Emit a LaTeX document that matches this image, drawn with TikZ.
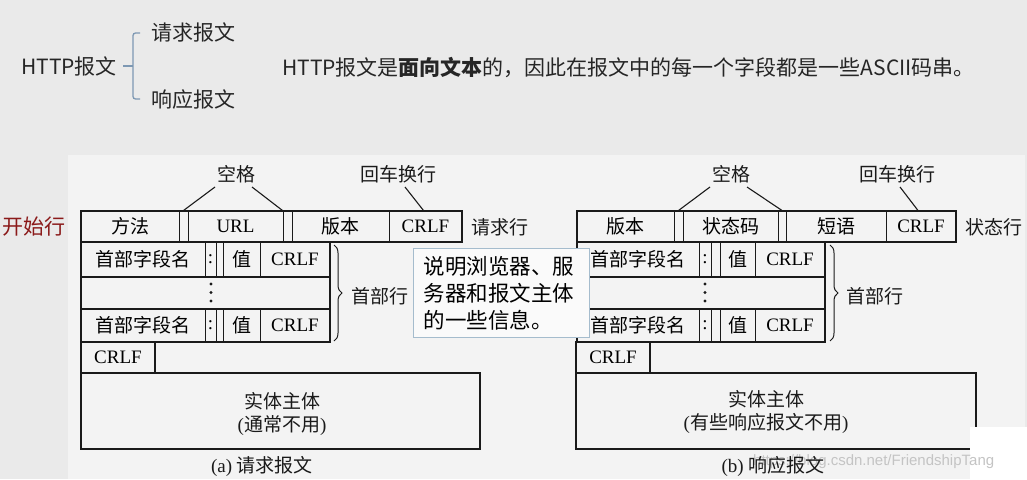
\documentclass[tikz,border=0pt]{standalone}
\usepackage{fontspec}
\setmainfont{Liberation Serif}
\newfontfamily\cjk{Noto Sans CJK SC}
\newfontfamily\wmfont{Liberation Sans}
\usetikzlibrary{decorations.pathreplacing}
\definecolor{bgtop}{HTML}{EAEAEA}
\definecolor{panel}{HTML}{F3F3F3}
\definecolor{ink}{HTML}{1A1A1A}
\definecolor{brk}{HTML}{7D98B3}
\definecolor{darkred}{HTML}{8B1A1A}
\definecolor{calloutline}{HTML}{A5BCCD}
\definecolor{wmgrey}{HTML}{C4C4C4}
\newcommand\dz{\fontsize{19}{23}\selectfont}
\newcommand\tz{\fontsize{21}{25}\selectfont}
\newcommand\mkcell[6]{\node[cell, minimum width={(#4-#2)*1pt}, minimum height={(#5-#3)*1pt}] (#1) at ({(#2+#4)/2},{(#3+#5)/2}) {#6};}
\begin{document}
\begin{tikzpicture}[x=1pt,y=-1pt,
  cell/.style={draw=ink, line width=1pt, inner sep=0pt, font=\dz},
  thickline/.style={draw=ink, line width=2pt},
  thinline/.style={draw=ink, line width=1.1pt},
  lbl/.style={font=\cjk\dz, inner sep=1pt, text=ink},
  toptext/.style={font=\cjk\tz, inner sep=0pt, text=black!85},
  bracebar/.style={draw=brk, line width=1.3pt},
  hdrbrace/.style={draw=ink, line width=1pt, decorate, decoration={brace, amplitude=8pt}},
  calloutbox/.style={draw=calloutline, fill=white!60!panel, line width=1pt, font=\cjk\fontsize{21.5}{27}\selectfont, align=left, text width=156pt, inner xsep=10pt, inner ysep=0pt, minimum height=89pt, anchor=north west}
]
\useasboundingbox (0,0) rectangle (1027,479);
\fill[bgtop] (0,0) rectangle (1027,479);
\fill[panel] (68,155) rectangle (1025,479);

% ---------- top part ----------
\node[toptext, anchor=west] (http) at (21,66) {HTTP报文};
\draw[bracebar] (123,66) -- (133,66);
\draw[bracebar, rounded corners=2.5pt] (140,33) -- (133,33) -- (133,99) -- (140,99);
\node[toptext, anchor=west] (req) at (151,32) {请求报文};
\node[toptext, anchor=west] (resp) at (151,100) {响应报文};
\node[toptext, anchor=west] (sentence) at (282,68) {HTTP报文是{\bfseries 面向文本}的，因此在报文中的每一个字段都是一些ASCII码串。};

\node[font=\cjk\tz, text=darkred, anchor=west, inner sep=0pt] (start) at (2,227) {开始行};

% ---------- (a) request ----------
\mkcell{mA}{81}{211}{179}{242}{\cjk 方法}
\mkcell{gA}{179}{211}{188}{242}{}
\mkcell{uA}{188}{211}{283}{242}{URL}
\mkcell{gB}{283}{211}{292}{242}{}
\mkcell{vA}{292}{211}{389}{242}{\cjk 版本}
\mkcell{cA}{389}{211}{462}{242}{CRLF}
\draw[thickline] (81,211) rectangle (462,242);

\mkcell{hA1}{81}{242}{205}{277}{\cjk 首部字段名}
\mkcell{sA1}{205}{242}{216}{277}{:}
\mkcell{xA1}{216}{242}{223}{277}{}
\mkcell{zA1}{223}{242}{260}{277}{\cjk 值}
\mkcell{rA1}{260}{242}{330}{277}{CRLF}
\mkcell{dA}{81}{277}{330}{309}{}
\mkcell{hA3}{81}{309}{205}{342}{\cjk 首部字段名}
\mkcell{sA3}{205}{309}{216}{342}{:}
\mkcell{xA3}{216}{309}{223}{342}{}
\mkcell{zA3}{223}{309}{260}{342}{\cjk 值}
\mkcell{rA3}{260}{309}{330}{342}{CRLF}
\draw[thickline] (81,242) rectangle (330,342);
\draw[thickline] (81,277) -- (330,277);
\draw[thickline] (81,309) -- (330,309);
\foreach \yy in {284,292.5,301} \fill[ink] (211,\yy) circle (1.6);

\mkcell{eA}{81}{342}{155}{373}{CRLF}
\draw[thickline] (81,342) rectangle (155,373);
\node[cell, draw=none] (bodyA) at (280.5,411) {};
\draw[thickline] (81,373) rectangle (480,449);
\node[lbl, align=center, font=\dz, text depth=0pt] (bodyAtxt) at (282,412) {{\cjk 实体主体}\\({\cjk 通常不用})};

\node[lbl, anchor=south] (kgA) at (236,184) {空格};
\coordinate (kgAl) at (215,187);
\coordinate (kgAr) at (252,187);
\draw[thinline] (kgAl) -- (gA.north);
\draw[thinline] (kgAr) -- (gB.north west);
\node[lbl, anchor=south] (crA) at (398,184) {回车换行};
\coordinate (crAs) at (405,187);
\draw[thinline] (crAs) -- ([xshift=-2pt]cA.north);
\node[lbl, anchor=west] (reqline) at (470,227) {请求行};
\draw[hdrbrace] (334,245) -- (334,341);
\node[lbl, anchor=west] (hdrA) at (350,296) {首部行};

\node[lbl, font=\dz] (capA) at (262,466) {(a) {\cjk 请求报文}};

% ---------- (b) response ----------
\mkcell{vB}{577}{211}{674}{242}{\cjk 版本}
\mkcell{gC}{674}{211}{683}{242}{}
\mkcell{kB}{683}{211}{778}{242}{\cjk 状态码}
\mkcell{gD}{778}{211}{786}{242}{}
\mkcell{pB}{786}{211}{886}{242}{\cjk 短语}
\mkcell{cB}{886}{211}{956}{242}{CRLF}
\draw[thickline] (577,211) rectangle (956,242);

\mkcell{hB1}{577}{242}{699}{277}{\cjk 首部字段名}
\mkcell{sB1}{699}{242}{711}{277}{:}
\mkcell{xB1}{711}{242}{720}{277}{}
\mkcell{zB1}{720}{242}{755}{277}{\cjk 值}
\mkcell{rB1}{755}{242}{825}{277}{CRLF}
\mkcell{dB}{577}{277}{825}{309}{}
\mkcell{hB3}{577}{309}{699}{342}{\cjk 首部字段名}
\mkcell{sB3}{699}{309}{711}{342}{:}
\mkcell{xB3}{711}{309}{720}{342}{}
\mkcell{zB3}{720}{309}{755}{342}{\cjk 值}
\mkcell{rB3}{755}{309}{825}{342}{CRLF}
\draw[thickline] (577,242) rectangle (825,342);
\draw[thickline] (577,277) -- (825,277);
\draw[thickline] (577,309) -- (825,309);
\foreach \yy in {284,292.5,301} \fill[ink] (705,\yy) circle (1.6);

\mkcell{eB}{576}{342}{650}{373}{CRLF}
\draw[thickline] (576,342) rectangle (650,373);
\draw[thickline] (576,373) rectangle (976,449);
\node[lbl, align=center, font=\dz] (bodyBtxt) at (766,412) {{\cjk 实体主体}\\({\cjk 有些响应报文不用})};

\node[lbl, anchor=south] (kgB) at (731,184) {空格};
\coordinate (kgBl) at (710,187);
\coordinate (kgBr) at (747,187);
\draw[thinline] (kgBl) -- (gC.north);
\draw[thinline] (kgBr) -- (gD.north);
\node[lbl, anchor=south] (crB) at (897,184) {回车换行};
\coordinate (crBs) at (900,187);
\draw[thinline] (crBs) -- ([xshift=-3pt]cB.north);
\node[lbl, anchor=west] (statline) at (964,227) {状态行};
\draw[hdrbrace] (830,245) -- (830,341);
\node[lbl, anchor=west] (hdrB) at (845,296) {首部行};

% callout
\node[calloutbox] (note) at (413,248) {说明浏览器、服\\务器和报文主体\\的一些信息。};

% white patch and watermark
\fill[white] (970,427) rectangle (1027,479);
\node[font=\wmfont\fontsize{15}{15}\selectfont, text=wmgrey, anchor=west, inner sep=0pt] (wm) at (753,462) {https://blog.csdn.net/FriendshipTang};
\node[lbl, font=\dz] (capB) at (773,466) {(b) {\cjk 响应报文}};
\end{tikzpicture}
\end{document}
